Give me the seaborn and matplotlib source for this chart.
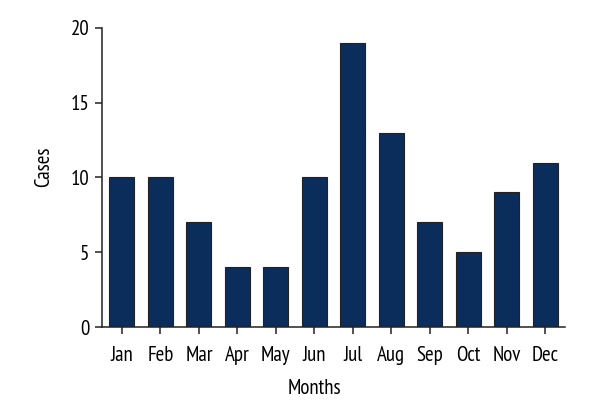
import matplotlib
matplotlib.use("Agg")
import matplotlib.pyplot as plt
import seaborn as sns
import pandas as pd

months = ["Jan", "Feb", "Mar", "Apr", "May", "Jun", "Jul", "Aug", "Sep", "Oct", "Nov", "Dec"]
cases = [10, 10, 7, 4, 4, 10, 19, 13, 7, 5, 9, 11]
y_ticks = [0, 5, 10, 15, 20]

sns.set_style("ticks")
plt.rcParams["font.family"] = ["PT Sans Narrow", "DejaVu Sans"]

df = pd.DataFrame({"Months": months, "Cases": cases})

fig = plt.figure(figsize=(6, 4.2), dpi=100)
ax = fig.add_axes([0.17, 0.2214, 0.7717, 0.712])
sns.barplot(data=df, x="Months", y="Cases", color="#0b2d5b", width=0.65,
            edgecolor="#222222", linewidth=0.8, saturation=1, ax=ax)

ax.set_ylim(0, 20)
ax.set_yticks(y_ticks)
ax.set_xlim(-0.52, 11.52)
sns.despine(ax=ax)
for s in ["left", "bottom"]:
    ax.spines[s].set_linewidth(1.1)
    ax.spines[s].set_color("#222222")
ax.tick_params(axis="both", direction="out", length=5, width=1.1, color="#222222",
               labelcolor="black", labelsize=15)
ax.tick_params(axis="x", pad=9)
ax.tick_params(axis="y", pad=4)
ax.set_xlabel("Months", fontsize=15, color="black")
ax.set_ylabel("Cases", fontsize=15, color="black")
ax.xaxis.set_label_coords(0.458, -0.175)
ax.yaxis.set_label_coords(-0.106, 0.535)

fig.savefig("out.png", dpi=100)
